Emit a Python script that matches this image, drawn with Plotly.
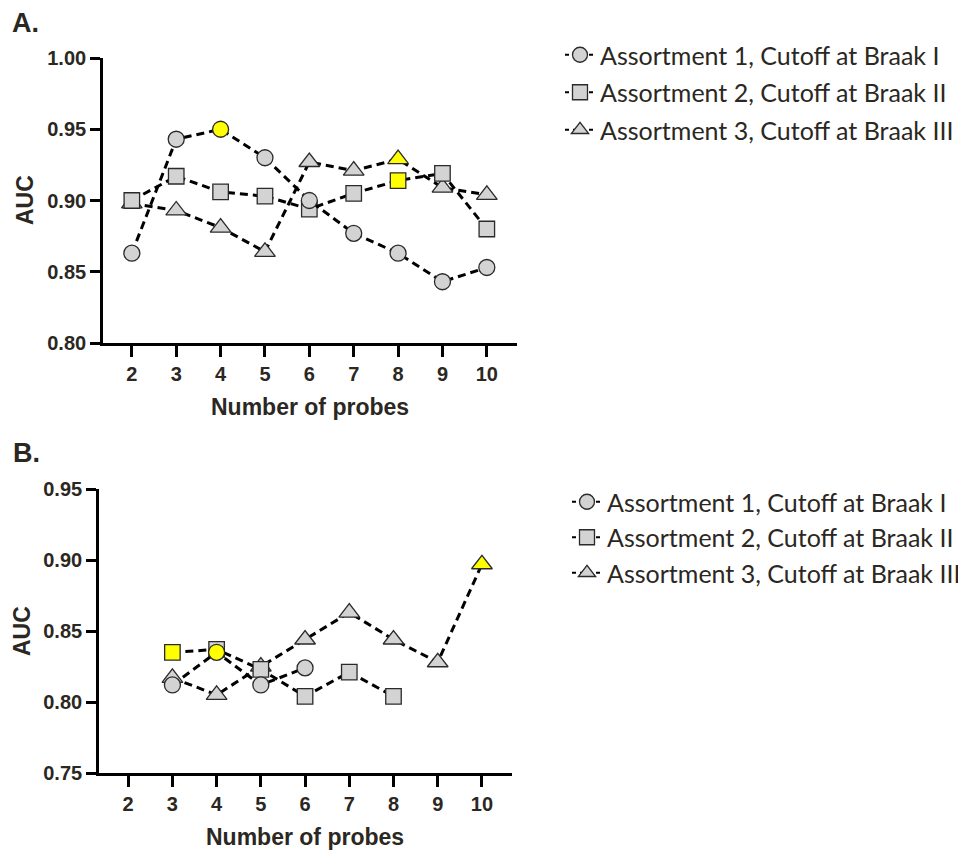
import plotly.graph_objects as go

# ---------------- data ----------------
probes = [2, 3, 4, 5, 6, 7, 8, 9, 10]
x_ticks = [2, 3, 4, 5, 6, 7, 8, 9, 10]

series_names = [
    "Assortment 1, Cutoff at Braak I",
    "Assortment 2, Cutoff at Braak II",
    "Assortment 3, Cutoff at Braak III",
]

# Panel A
a_assort1 = [0.863, 0.943, 0.950, 0.930, 0.900, 0.877, 0.863, 0.843, 0.853]
a_assort2 = [0.900, 0.917, 0.906, 0.903, 0.894, 0.905, 0.914, 0.919, 0.880]
a_assort3 = [0.898, 0.893, 0.881, 0.864, 0.927, 0.921, 0.929, 0.909, 0.904]
a_best = [4, 8, 8]  # highlighted (best) number of probes per series

# Panel B
b_assort1 = [None, 0.812, 0.835, 0.812, 0.824, None, None, None, None]
b_assort2 = [None, 0.835, 0.837, 0.823, 0.804, 0.821, 0.804, None, None]
b_assort3 = [None, 0.817, 0.805, 0.825, 0.844, 0.863, 0.844, 0.828, 0.897]
b_best = [4, 3, 10]

a_yticks = [0.80, 0.85, 0.90, 0.95, 1.00]
b_yticks = [0.75, 0.80, 0.85, 0.90, 0.95]

# ---------------- styling ----------------
OFF = 8                      # page body margin
W, H = 966 - OFF, 851 - OFF  # figure size so that the page fills the window
TXT = "#2b2722"
GRAY = "#d3d3d3"
YELLOW = "#ffff00"
EDGE = "#2a2a2a"
symbols = ["circle", "square", "triangle-up"]
sizes = [16, 15.5, 18]
AXFONT = dict(family="Liberation Sans, Arial", size=20, color=TXT, weight="bold")
TITLEFONT = dict(family="Liberation Sans, Arial", size=23, color=TXT, weight="bold")
LEGFONT = dict(family="Lato", size=25, color=TXT)


def px_x(s):
    return (s - OFF) / W


def px_y(s):
    return 1 - (s - OFF) / H


fig = go.Figure()

panels = [
    dict(data=[a_assort3, a_assort2, a_assort1], best=[a_best[2], a_best[1], a_best[0]],
         idx=[2, 1, 0], xa="x", ya="y", legend="legend", grouped=True),
    dict(data=[b_assort3, b_assort2, b_assort1], best=[b_best[2], b_best[1], b_best[0]],
         idx=[2, 1, 0], xa="x2", ya="y2", legend="legend2", grouped=False),
]

for pi, p in enumerate(panels):
    # data traces (triangles drawn first, circles on top)
    for vals, best, i in zip(p["data"], p["best"], p["idx"]):
        colors = [YELLOW if x == best else GRAY for x in probes]
        fig.add_trace(go.Scatter(
            x=probes, y=vals, mode="lines+markers", xaxis=p["xa"], yaxis=p["ya"],
            line=dict(color="black", width=3, dash="8px,5px"),
            marker=dict(symbol=symbols[i], size=sizes[i], color=colors,
                        line=dict(color=EDGE, width=1.3)),
            connectgaps=False, showlegend=False, hoverinfo="x+y",
        ))
    # legend entries
    for i in range(3):
        kw = dict(legendgroup=f"p{pi}g{i}") if p["grouped"] else {}
        fig.add_trace(go.Scatter(
            x=[None], y=[None], mode="lines+markers", xaxis=p["xa"], yaxis=p["ya"],
            name=series_names[i], legend=p["legend"],
            line=dict(color="black", width=2, dash="4px,4px"),
            marker=dict(symbol=symbols[i], size=15, color=GRAY,
                        line=dict(color=EDGE, width=1.3)),
            **kw,
        ))

axis_common = dict(
    showline=True, linecolor="black", linewidth=2.7, ticks="outside",
    tickwidth=2.7, tickcolor="black", showgrid=False, zeroline=False,
    tickfont=AXFONT, fixedrange=True, automargin=False,
)

fig.update_layout(
    width=W, height=H,
    margin=dict(l=0, r=0, t=0, b=0, pad=0, autoexpand=False),
    plot_bgcolor="white", paper_bgcolor="white",
    xaxis=dict(domain=[px_x(103), px_x(517)], range=[1.35, 10.68], tickvals=x_ticks,
               ticklen=11, anchor="y", **axis_common),
    yaxis=dict(domain=[px_y(343), px_y(58)], range=[0.80, 1.00], tickvals=a_yticks,
               tickformat=".2f", ticklen=10, anchor="x", **axis_common),
    xaxis2=dict(domain=[px_x(99), px_x(512)], range=[1.34, 10.68], tickvals=x_ticks,
                ticklen=11, anchor="y2", **axis_common),
    yaxis2=dict(domain=[px_y(773), px_y(489)], range=[0.75, 0.95], tickvals=b_yticks,
                tickformat=".2f", ticklen=10, anchor="x2", **axis_common),
    legend=dict(x=px_x(560), y=px_y(32), xanchor="left", yanchor="top",
                font=LEGFONT, bgcolor="rgba(0,0,0,0)", tracegroupgap=2,
                itemclick=False, itemdoubleclick=False),
    legend2=dict(x=px_x(567), y=px_y(479), xanchor="left", yanchor="top",
                 font=LEGFONT, bgcolor="rgba(0,0,0,0)",
                 itemclick=False, itemdoubleclick=False),
    showlegend=True,
)

annotations = [
    dict(text="A.", x=px_x(10), y=px_y(23), xanchor="left", yanchor="middle",
         font=dict(family="Liberation Sans, Arial", size=27, color=TXT, weight="bold")),
    dict(text="B.", x=px_x(11), y=px_y(453), xanchor="left", yanchor="middle",
         font=dict(family="Liberation Sans, Arial", size=27, color=TXT, weight="bold")),
    dict(text="AUC", x=px_x(25), y=px_y(200), textangle=-90, xanchor="center",
         yanchor="middle", font=TITLEFONT),
    dict(text="AUC", x=px_x(22), y=px_y(631), textangle=-90, xanchor="center",
         yanchor="middle", font=TITLEFONT),
    dict(text="Number of probes", x=px_x(310), y=px_y(407), xanchor="center",
         yanchor="middle", font=TITLEFONT),
    dict(text="Number of probes", x=px_x(305), y=px_y(837), xanchor="center",
         yanchor="middle", font=TITLEFONT),
]
for a in annotations:
    a.update(xref="paper", yref="paper", showarrow=False)
fig.update_layout(annotations=annotations)

fig.write_html("out.html")
